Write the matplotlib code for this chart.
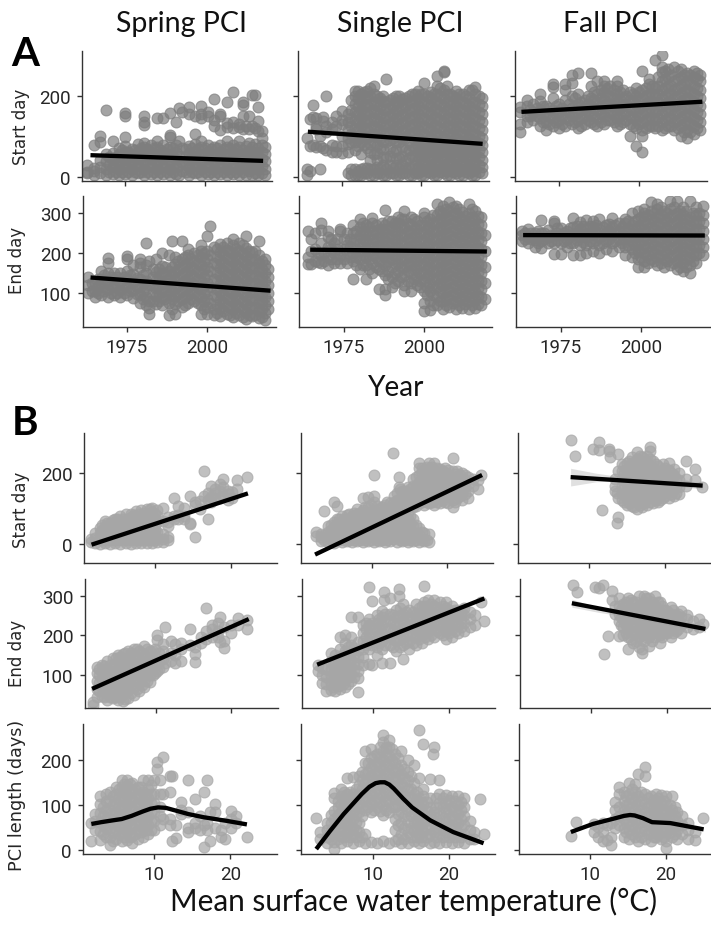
import numpy as np
import matplotlib
matplotlib.use('Agg')
import matplotlib.pyplot as plt

W, H = 711, 928

# values, x value -> list of y values
spring_start = {
 1963: [12, 30, 8], 1965: [4, 22, 15, 77], 1967: [8, 24, 42, 85, 101], 1969: [3, 20, 38, 55, 165],
 1971: [6, 24, 42, 58, 89], 1973: [3, 20, 38, 55, 70], 1975: [7, 25, 42, 60, 75, 97, 156, 150],
 1977: [3, 20, 38, 55, 68], 1979: [8, 26, 44, 62, 80], 1981: [3, 20, 38, 56, 72, 84, 128, 150, 135],
 1983: [7, 25, 43, 60, 78], 1985: [3, 20, 38, 55, 72, 88, 146], 1987: [7, 25, 43, 60, 78, 146],
 1989: [3, 20, 38, 55, 72, 98, 103, 158], 1991: [7, 25, 43, 60, 78, 134], 1992: [4, 30, 52, 170, 88],
 1993: [14, 36, 70, 160], 1995: [5, 22, 40, 58, 75, 171, 155], 1997: [8, 26, 44, 62, 80, 105, 150],
 1999: [3, 20, 38, 55, 72, 88, 175, 155, 145], 2001: [7, 25, 43, 60, 78, 160, 150], 2003: [3, 20, 38, 55, 72, 192, 125, 140],
 2005: [7, 25, 43, 60, 78, 155, 150, 115], 2007: [3, 20, 38, 55, 72, 88, 185, 122, 132], 2009: [7, 25, 43, 60, 78, 208, 120, 135],
 2011: [3, 20, 38, 55, 72, 88, 122, 130], 2012: [12, 32, 50, 66, 177, 184, 150, 118], 2013: [5, 22, 40, 58, 76, 125],
 2014: [14, 30, 48, 64, 82, 118, 150], 2015: [3, 20, 38, 55, 72, 201, 125], 2016: [10, 28, 46, 62, 80, 201, 120],
 2017: [3, 18, 36, 52, 70, 171, 138, 113], 2018: [8, 26, 44, 60, 78, 95, 112], 2019: [3, 20, 38, 55, 72],
}
spring_start_more = {
 1970: [12, 30, 48], 1972: [12, 30, 48], 1974: [12, 30, 48, 65], 1976: [12, 30, 48, 62], 1978: [12, 30, 48, 65], 1980: [12, 30, 50, 70], 1982: [12, 30, 50, 68],
 1984: [12, 30, 50, 70], 1986: [12, 30, 50, 66], 1988: [12, 30, 50, 68], 1990: [12, 30, 50, 70], 1994: [12, 30, 50, 68], 1996: [12, 30, 50, 70], 1998: [12, 30, 50, 68],
 2000: [12, 30, 50, 70], 2002: [12, 30, 50, 68], 2004: [12, 30, 50, 70], 2006: [12, 30, 50, 68], 2008: [12, 30, 50, 70], 2010: [12, 30, 50, 68],
}
single_start = {
 1964: [95, 5, 20], 1965: [75, 142, 15], 1966: [78, 148, 178], 1967: [72, 125, 145, 118], 1968: [18, 75, 100],
 1969: [70, 148, 138], 1970: [65, 200, 110, 125], 1972: [62, 78, 135, 118], 1973: [60, 75, 150, 125], 1975: [58, 75, 100, 130, 162, 140],
 1977: [8, 62, 80, 95, 115, 135, 155], 1979: [5, 20, 65, 85, 100, 120, 140, 160, 180, 200, 212], 1981: [3, 18, 55, 85, 105, 125, 145, 165, 185, 205],
 1983: [8, 22, 70, 95, 115, 135, 155, 175, 195, 212], 1985: [3, 18, 55, 85, 105, 125, 145, 165, 185, 205, 225],
 1987: [8, 22, 70, 95, 115, 135, 155, 175, 195], 1989: [3, 18, 45, 85, 105, 125, 145, 165, 185, 242],
 1991: [8, 22, 60, 95, 115, 135, 155, 175, 195], 1993: [3, 18, 45, 85, 105, 125, 145, 165, 185, 200],
 1995: [8, 22, 38, 65, 95, 115, 135, 155, 175, 195], 1997: [3, 18, 50, 75, 105, 125, 145, 165, 185, 205],
 1999: [8, 24, 42, 60, 78, 95, 115, 135, 155, 175, 195, 212], 2001: [3, 20, 38, 55, 72, 88, 105, 125, 145, 165, 185, 205, 232],
 2003: [8, 24, 42, 60, 78, 95, 115, 135, 155, 175, 195, 210], 2005: [3, 20, 38, 55, 72, 88, 105, 125, 145, 165, 185, 205, 225, 248],
 2007: [8, 24, 42, 60, 78, 95, 115, 135, 155, 175, 195, 215, 258, 260], 2009: [3, 20, 38, 55, 72, 88, 105, 125, 145, 165, 185, 205],
 2011: [8, 24, 42, 60, 78, 95, 115, 135, 155, 175, 195, 212], 2013: [3, 20, 38, 55, 72, 88, 105, 125, 145, 165, 185, 205],
 2015: [8, 24, 42, 60, 78, 95, 115, 135, 155, 175, 195, 215], 2017: [3, 20, 38, 55, 72, 88, 105, 125, 145, 165, 185, 205, 222],
 2019: [8, 24, 42, 60, 78, 95, 115, 135, 155, 175, 195],
}
single_start_more = {
 1978: [5, 18, 85, 105, 125, 145, 165, 190], 1980: [3, 15, 75, 95, 115, 135, 155, 175, 195, 212], 1982: [8, 22, 78, 98, 118, 138, 158, 178, 198, 210],
 1984: [5, 20, 40, 62, 80, 100, 120, 140, 160, 180, 200, 218], 1986: [8, 25, 40, 58, 78, 98, 118, 138, 158, 178, 198], 1988: [5, 28, 48, 68, 88, 108, 128, 148, 168, 188, 200],
 1990: [10, 30, 50, 70, 90, 110, 130, 150, 170, 190], 1992: [5, 28, 45, 65, 85, 105, 125, 145, 165, 185, 200], 1994: [10, 30, 52, 72, 92, 112, 132, 152, 172, 192],
 1996: [5, 25, 45, 65, 85, 105, 125, 145, 165, 185, 200], 1998: [10, 30, 50, 70, 90, 110, 130, 150, 170, 190, 205], 2000: [5, 15, 32, 50, 68, 85, 105, 125, 145, 165, 185, 205],
 2002: [12, 30, 48, 66, 82, 100, 120, 140, 160, 180, 198], 2004: [5, 15, 32, 50, 68, 85, 105, 125, 145, 165, 185, 205], 2006: [12, 30, 48, 66, 82, 100, 120, 140, 160, 180, 200, 218],
 2008: [5, 15, 32, 50, 68, 85, 105, 125, 145, 165, 185, 205, 225], 2010: [12, 30, 48, 66, 82, 100, 120, 140, 160, 180, 200], 2012: [5, 15, 32, 50, 68, 85, 105, 125, 145, 165, 185, 205],
 2014: [12, 30, 48, 66, 82, 100, 120, 140, 160, 180, 200], 2016: [5, 15, 32, 50, 68, 85, 105, 125, 145, 165, 185, 215], 2018: [12, 30, 48, 66, 82, 100, 120, 140, 160, 180, 200],
}
fall_start = {
 1963: [110, 130, 160, 172], 1965: [135, 150, 175, 190], 1967: [140, 160, 180], 1969: [125, 145, 165, 205, 188], 1971: [115, 135, 155, 175],
 1973: [125, 145, 165, 195, 222, 230], 1975: [120, 140, 160, 180], 1977: [125, 145, 165, 190, 215, 230], 1979: [130, 150, 170, 200, 250, 232],
 1981: [120, 140, 160, 180, 205, 255], 1983: [130, 150, 170, 190], 1985: [135, 155, 175, 195, 225, 255], 1987: [125, 145, 165, 185, 205, 235],
 1989: [130, 150, 170, 190, 210, 235, 225], 1991: [140, 160, 180, 200, 225], 1993: [125, 145, 165, 185, 205, 225, 235], 1995: [135, 155, 175, 195, 215],
 1997: [130, 150, 170, 190, 100, 210], 1999: [120, 140, 160, 180, 200, 220, 75], 2001: [115, 135, 155, 175, 195, 215, 60, 262, 100],
 2003: [125, 145, 165, 185, 205, 230, 240], 2005: [120, 140, 160, 180, 200, 220, 288], 2007: [115, 135, 155, 175, 195, 215, 235, 258, 300, 270],
 2009: [125, 145, 165, 185, 205, 225, 245, 265], 2011: [115, 135, 155, 175, 195, 215, 235, 270], 2013: [100, 125, 145, 165, 185, 205, 225, 245, 265],
 2015: [95, 115, 135, 155, 175, 195, 215, 235, 255], 2017: [105, 125, 145, 165, 185, 205, 225, 245, 260], 2019: [115, 135, 155, 175, 195, 215, 235, 250],
}
fall_start_more = {
 1966: [150, 165], 1968: [150, 170], 1970: [135, 155, 175], 1972: [130, 150, 170], 1974: [135, 155, 175], 1976: [130, 150, 170], 1978: [140, 160, 180],
 1980: [135, 155, 175, 195], 1982: [125, 145, 165, 185], 1984: [140, 160, 180, 200], 1986: [130, 150, 170, 190, 210], 1988: [135, 155, 175, 195, 215],
 1990: [140, 160, 180, 200, 220], 1992: [135, 155, 175, 195, 215], 1994: [130, 150, 170, 190, 210], 1996: [140, 160, 180, 200], 1998: [125, 145, 165, 185, 205],
 2000: [130, 150, 170, 190, 210], 2002: [120, 140, 160, 180, 200, 220], 2004: [125, 145, 165, 185, 205, 225], 2006: [125, 145, 165, 185, 205, 225, 245],
 2008: [120, 140, 160, 180, 200, 220, 240, 260], 2010: [125, 145, 165, 185, 205, 225, 250], 2012: [120, 140, 160, 180, 200, 220, 240, 260], 2014: [110, 130, 150, 170, 190, 210, 230, 250],
 2016: [110, 130, 150, 170, 190, 210, 230, 250], 2018: [120, 140, 160, 180, 200, 220, 240, 255],
}
spring_end = {
 1963: [100, 120, 140], 1965: [90, 105, 125], 1967: [95, 115, 135, 155], 1969: [90, 110, 130, 150, 188, 175], 1971: [95, 115, 135, 150],
 1973: [90, 108, 128, 150], 1975: [95, 115, 135, 155, 192, 185], 1977: [88, 108, 128, 148, 170], 1979: [75, 95, 115, 135, 165, 185, 175],
 1981: [70, 90, 110, 130, 150, 170, 225], 1982: [47, 62, 80, 120, 180], 1984: [72, 92, 112, 132, 152, 185], 1986: [70, 90, 110, 130, 150, 200, 168],
 1988: [44, 75, 95, 115, 135, 155, 195], 1989: [229, 60, 85, 105, 125, 145, 165], 1990: [47, 72, 92, 112, 132, 152, 172, 190], 1992: [65, 85, 105, 125, 145, 165, 185, 229],
 1994: [75, 95, 115, 135, 155, 175, 195, 210], 1996: [80, 100, 120, 140, 160, 180, 200], 1998: [48, 70, 90, 110, 130, 150, 170, 190, 220, 205],
 2000: [48, 65, 85, 105, 125, 145, 165, 185, 205, 243], 2001: [268, 75, 115, 155, 195], 2002: [45, 60, 95, 135, 175, 215], 2004: [42, 62, 82, 102, 122, 142, 162, 182, 202, 222],
 2006: [48, 68, 88, 108, 128, 148, 168, 188, 208, 225], 2008: [40, 60, 80, 100, 120, 140, 160, 180, 200, 220, 235], 2010: [45, 65, 85, 105, 125, 145, 165, 185, 205, 225],
 2012: [35, 52, 72, 92, 112, 132, 152, 172, 192, 212, 243], 2014: [42, 62, 82, 102, 122, 142, 162, 182, 202], 2016: [38, 55, 75, 95, 115, 135, 155, 175, 195, 230],
 2018: [33, 50, 70, 90, 110, 130, 150, 170, 185], 2019: [60, 80, 100, 120, 140, 160],
}
spring_end_more = {
 1964: [105, 125], 1966: [100, 115, 135], 1968: [105, 125, 145], 1970: [100, 120, 140], 1972: [100, 120, 140], 1974: [100, 120, 140], 1976: [105, 125, 145], 1978: [98, 118, 138],
 1980: [85, 105, 125, 145], 1983: [80, 100, 120, 140, 160], 1985: [80, 100, 120, 140, 160], 1987: [85, 105, 125, 145, 165], 1991: [80, 100, 120, 140, 160, 180], 1993: [70, 90, 110, 130, 150, 170, 190],
 1995: [85, 105, 125, 145, 165, 185], 1997: [75, 95, 115, 135, 155, 175, 195], 1999: [60, 80, 100, 120, 140, 160, 180, 200], 2003: [50, 70, 90, 110, 130, 150, 170, 190, 210], 2005: [55, 75, 95, 115, 135, 155, 175, 195, 215],
 2007: [45, 65, 85, 105, 125, 145, 165, 185, 205], 2009: [50, 70, 90, 110, 130, 150, 170, 190, 210], 2011: [40, 60, 80, 100, 120, 140, 160, 180, 200, 220], 2013: [45, 65, 85, 105, 125, 145, 165, 185, 205],
 2015: [45, 65, 85, 105, 125, 145, 165, 185, 205], 2017: [40, 60, 80, 100, 120, 140, 160, 180],
}
single_end = {
 1964: [255, 172, 190], 1965: [235, 205, 172], 1966: [250, 180, 210], 1968: [175, 195, 225, 258, 275], 1970: [170, 190, 215, 255, 240], 1972: [175, 200, 225],
 1974: [175, 195, 255, 260], 1976: [175, 200, 220, 250], 1978: [135, 180, 200, 225, 250, 270], 1980: [160, 185, 205, 225, 245, 265, 285],
 1982: [135, 170, 190, 210, 230, 250, 270], 1984: [150, 175, 195, 215, 235, 255, 275, 288], 1986: [110, 160, 180, 200, 220, 240, 260],
 1988: [95, 110, 145, 170, 190, 210, 230, 250, 270, 308], 1990: [115, 140, 165, 185, 205, 225, 245, 265, 280], 1992: [130, 155, 175, 195, 215, 235, 255, 275, 290],
 1994: [105, 120, 145, 165, 185, 205, 225, 245, 265, 285, 305], 1996: [105, 125, 150, 170, 190, 210, 230, 250, 270, 290], 1998: [120, 140, 160, 180, 200, 220, 240, 260, 280],
 2000: [55, 75, 105, 130, 150, 170, 190, 210, 230, 250, 270, 290, 300], 2002: [58, 80, 105, 125, 145, 165, 185, 205, 225, 245, 265, 285],
 2004: [70, 90, 115, 135, 155, 175, 195, 215, 235, 255, 275, 295, 322], 2006: [60, 80, 100, 120, 140, 160, 180, 200, 220, 240, 260, 280, 300, 318],
 2008: [65, 85, 105, 125, 145, 165, 185, 205, 225, 245, 265, 285, 305, 328], 2010: [60, 80, 100, 120, 140, 160, 180, 200, 220, 240, 260, 280, 300, 318],
 2012: [62, 82, 102, 122, 142, 162, 182, 202, 222, 242, 262, 282, 302], 2014: [60, 80, 100, 120, 140, 160, 180, 200, 220, 240, 260, 280, 300, 322],
 2016: [62, 82, 102, 122, 142, 162, 182, 202, 222, 242, 262, 282, 305], 2018: [70, 90, 110, 130, 150, 170, 190, 210, 230, 250, 270, 290],
 2019: [85, 125, 165, 205, 245],
}
single_end_more = {
 1967: [178, 200], 1969: [180, 200], 1971: [185, 210, 235], 1973: [185, 210, 235], 1975: [185, 210, 235], 1977: [190, 215, 235], 1979: [170, 190, 210, 235, 255], 1981: [170, 195, 215, 235, 255, 275],
 1983: [160, 185, 205, 225, 245, 265], 1985: [165, 190, 210, 230, 250, 270], 1987: [155, 180, 200, 220, 240, 260, 275], 1989: [135, 155, 180, 200, 220, 240, 260, 280], 1991: [125, 150, 175, 195, 215, 235, 255, 275],
 1993: [140, 165, 185, 205, 225, 245, 265, 285], 1995: [130, 155, 175, 195, 215, 235, 255, 275], 1997: [135, 160, 180, 200, 220, 240, 260, 285], 1999: [115, 130, 150, 170, 190, 210, 230, 250, 270],
 2001: [95, 115, 140, 160, 180, 200, 220, 240, 260, 280], 2003: [70, 95, 115, 135, 155, 175, 195, 215, 235, 255, 275, 295], 2005: [80, 105, 125, 145, 165, 185, 205, 225, 245, 265, 285, 305],
 2007: [70, 90, 110, 130, 150, 170, 190, 210, 230, 250, 270, 290, 310], 2009: [75, 95, 115, 135, 155, 175, 195, 215, 235, 255, 275, 295, 315], 2011: [70, 90, 110, 130, 150, 170, 190, 210, 230, 250, 270, 290, 310],
 2013: [72, 92, 112, 132, 152, 172, 192, 212, 232, 252, 272, 292], 2015: [70, 90, 110, 130, 150, 170, 190, 210, 230, 250, 270, 290, 310], 2017: [72, 92, 112, 132, 152, 172, 192, 212, 232, 252, 272, 292],
}
fall_end = {
 1963: [230, 245, 255], 1965: [225, 240, 260], 1967: [215, 232, 250], 1969: [212, 230, 250, 282], 1971: [225, 240, 258], 1973: [197, 225, 245, 275, 280],
 1975: [197, 225, 245, 262], 1977: [215, 235, 255], 1979: [195, 225, 245, 265, 288], 1981: [195, 220, 240, 260, 278], 1983: [200, 220, 240, 260, 282],
 1985: [205, 225, 245, 265, 280], 1987: [200, 220, 240, 260, 285], 1989: [210, 230, 250, 270], 1991: [205, 225, 245, 265, 288], 1993: [215, 235, 255, 275],
 1995: [195, 215, 235, 255, 275, 285], 1997: [190, 210, 230, 250, 270, 300], 1999: [165, 185, 205, 225, 245, 265, 285, 305], 2001: [165, 180, 200, 220, 240, 260, 280, 300, 310],
 2003: [185, 205, 225, 245, 265, 285, 305, 328], 2005: [170, 190, 210, 230, 250, 270, 290, 310, 322], 2007: [165, 185, 205, 225, 245, 265, 285, 305],
 2009: [170, 190, 210, 230, 250, 270, 290, 310, 330], 2011: [160, 180, 200, 220, 240, 260, 280, 300, 330], 2013: [155, 175, 195, 215, 235, 255, 275, 295, 315],
 2015: [150, 170, 190, 210, 230, 250, 270, 290, 330], 2017: [175, 195, 215, 235, 255, 275, 295, 315], 2019: [195, 215, 235, 255, 275, 295, 318],
}
fall_end_more = {
 1964: [235, 250], 1966: [235, 250], 1968: [225, 240, 255], 1970: [235, 250], 1972: [230, 245], 1974: [232, 250, 262], 1976: [230, 250], 1978: [225, 245, 262], 1980: [232, 250, 268], 1982: [228, 248, 268],
 1984: [230, 250, 268], 1986: [232, 252, 270], 1988: [225, 245, 265], 1990: [235, 255, 272], 1992: [230, 250, 270], 1994: [225, 245, 265], 1996: [220, 240, 260, 280], 1998: [200, 220, 240, 260, 280],
 2000: [190, 210, 230, 250, 270, 290], 2002: [175, 195, 215, 235, 255, 275, 295], 2004: [180, 200, 220, 240, 260, 280, 300], 2006: [175, 195, 215, 235, 255, 275, 295, 315], 2008: [180, 200, 220, 240, 260, 280, 300],
 2010: [175, 195, 215, 235, 255, 275, 295, 315], 2012: [165, 185, 205, 225, 245, 265, 285, 305], 2014: [165, 185, 205, 225, 245, 265, 285, 305], 2016: [180, 200, 220, 240, 260, 280, 300], 2018: [200, 220, 240, 260, 280, 300],
}
spring_start_t = {
 1.5: [5, 15], 2: [3, 18, 32], 2.7: [0, 15, 30, 45], 3.4: [3, 18, 33, 48, 66], 4: [0, 15, 30, 45, 60], 4.7: [3, 18, 33, 48, 63, 72], 5.4: [0, 15, 30, 45, 60, 78],
 6.1: [3, 18, 33, 48, 63, 85], 6.8: [0, 15, 30, 45, 60, 75, 85], 7.5: [3, 18, 33, 48, 63, 78, 92], 8.2: [2, 15, 30, 45, 60, 75, 95], 8.9: [3, 18, 33, 48, 63, 78, 100],
 9.6: [4, 15, 30, 45, 60, 75, 90, 103], 10.3: [5, 18, 33, 62, 78, 95], 11: [6, 15, 28, 65, 102], 11.7: [10, 20, 50, 62, 75], 12.5: [130, 80, 72], 13: [108, 72, 82],
 13.8: [70, 80, 102], 14.6: [57, 135, 60], 15.3: [19, 110, 118], 16: [122, 100], 16.5: [207, 135], 17: [71, 125, 145], 17.4: [165, 132, 118], 18: [128, 145, 155],
 18.6: [170, 150, 130], 19: [185, 162, 135], 19.6: [140, 125, 150], 20.2: [148, 130], 20.8: [180, 155], 22.2: [188],
}
spring_start_t_more = {
 3: [10, 25, 40, 55], 3.7: [10, 25, 40, 58], 4.4: [10, 25, 40, 55, 68], 5: [10, 25, 40, 55, 70], 5.8: [10, 25, 40, 55, 70], 6.4: [10, 25, 40, 55, 72], 7.2: [10, 25, 40, 55, 70, 82], 7.9: [10, 25, 40, 55, 70, 85],
 8.6: [10, 25, 40, 55, 70, 88], 9.3: [10, 25, 40, 55, 70, 85, 98], 10: [10, 25, 40, 55, 70, 85],
}
single_start_t = {
 2.6: [33, 22], 3.3: [8, 28, 20], 3.7: [94, 12, 25], 4.2: [5, 20, 35, 50], 5: [118, 3, 18, 33, 48, 62], 5.4: [106, 10, 25, 40, 55, 70], 6: [5, 20, 35, 50, 65, 80],
 6.7: [8, 23, 38, 53, 68, 82], 7.4: [5, 20, 35, 50, 65, 78], 8.1: [8, 23, 38, 53, 68, 85, 100], 8.8: [5, 20, 35, 50, 65, 80, 95, 130], 9.5: [8, 23, 38, 53, 68, 83, 105, 132],
 10.3: [195, 5, 20, 35, 50, 65, 80, 95, 120, 135], 11: [8, 23, 38, 53, 68, 83, 100], 11.7: [5, 20, 35, 50, 65, 80, 95, 110], 12.4: [8, 23, 38, 53, 68, 83, 98, 115],
 12.8: [257, 15, 45, 75, 105], 13.3: [5, 20, 35, 50, 65, 80, 95, 110, 125, 145], 13.6: [189, 160], 14: [8, 23, 38, 53, 68, 83, 115, 135, 150], 14.8: [5, 20, 35, 50, 70, 90, 120, 140, 160],
 15.5: [8, 30, 50, 70, 105, 125, 145, 165, 185], 16.2: [5, 25, 45, 115, 135, 155, 175, 195, 215, 228], 16.9: [8, 30, 110, 130, 150, 170, 190, 210], 17.6: [5, 28, 115, 135, 155, 175, 195, 215, 228],
 18.3: [110, 130, 150, 170, 190, 210, 228], 19: [115, 135, 155, 175, 195, 212], 19.7: [120, 140, 160, 180, 200, 215], 20.7: [242, 105, 125, 145, 165, 185, 205], 21.3: [130, 150, 170, 190, 205],
 22: [125, 145, 165, 185, 200], 22.7: [130, 150, 170, 190], 23.4: [165, 185], 24: [155, 180], 24.4: [195],
}
single_start_t_more = {
 4.6: [10, 25, 40, 55], 5.7: [12, 28, 42, 58, 72], 6.3: [12, 28, 42, 58, 72], 7: [12, 28, 42, 58, 72, 85], 7.7: [12, 28, 42, 58, 72, 88], 8.5: [12, 28, 42, 58, 72, 88], 9.1: [12, 28, 42, 58, 72, 90, 105],
 9.9: [12, 28, 42, 58, 72, 88, 110], 10.7: [12, 28, 42, 58, 72, 88, 108], 11.3: [12, 28, 42, 58, 72, 88, 105], 12: [12, 28, 42, 58, 72, 88, 102, 118], 12.9: [28, 58, 88, 118, 135], 13.7: [12, 28, 42, 58, 72, 88, 105, 125, 155],
 14.4: [12, 28, 42, 62, 82, 105, 128, 150], 15.1: [12, 32, 58, 80, 112, 132, 155], 15.9: [12, 30, 55, 108, 125, 145, 165, 190], 16.6: [12, 35, 120, 140, 160, 180, 200, 215], 17.3: [12, 120, 140, 160, 180, 200, 218],
 18: [118, 138, 158, 178, 198, 218], 18.7: [120, 140, 160, 180, 200, 215], 19.4: [125, 145, 165, 185, 205], 20.1: [115, 135, 155, 175, 195, 210], 21: [120, 140, 160, 180, 198], 21.7: [135, 155, 175, 195], 22.4: [140, 160, 180, 195],
}
fall_start_t = {
 7.6: [295], 8.2: [248], 10.5: [270], 11.3: [288, 265], 11.8: [97], 12.6: [270, 262], 12.8: [245], 13.4: [165, 185, 150], 13.7: [60, 145], 13.9: [76, 255, 130, 205],
 14.4: [125, 145, 165, 185, 205, 225], 15: [110, 130, 150, 170, 190, 210, 230], 15.7: [108, 128, 148, 168, 188, 208, 228, 245], 16.3: [100, 120, 140, 160, 180, 200, 220, 240, 260],
 17: [105, 125, 145, 165, 185, 205, 225, 245], 17.7: [110, 130, 150, 170, 190, 210, 230, 250], 18: [275, 262], 18.4: [115, 135, 155, 175, 195, 215, 235], 19.1: [120, 140, 160, 180, 200, 220],
 19.8: [130, 150, 170, 190, 210, 225], 20.5: [130, 150, 170, 190, 210, 228], 21.2: [135, 155, 175, 195, 212], 21.9: [140, 160, 180, 200], 22.8: [236, 165, 185], 24: [212, 180], 24.9: [160],
}
fall_start_t_more = {
 14.7: [120, 140, 160, 180, 200, 220], 15.3: [115, 135, 155, 175, 195, 215, 235], 16: [105, 125, 145, 165, 185, 205, 225], 16.7: [110, 130, 150, 170, 190, 210, 230, 250], 17.3: [115, 135, 155, 175, 195, 215, 235],
 18: [120, 140, 160, 180, 200, 220, 240], 18.8: [125, 145, 165, 185, 205, 225], 19.4: [125, 145, 165, 185, 205], 20.1: [135, 155, 175, 195, 215], 20.8: [140, 160, 180, 200], 21.5: [145, 165, 185],
}
spring_end_t = {
 1.7: [31, 25], 2.2: [45, 65, 85, 105, 120], 2.9: [48, 68, 88, 108, 125], 3.6: [38, 55, 75, 95, 115, 135], 4.3: [42, 62, 82, 102, 122, 142], 5: [38, 55, 75, 95, 115, 135, 150],
 5.7: [35, 52, 72, 92, 112, 132, 152], 6.4: [42, 62, 82, 102, 122, 142, 160], 7.1: [50, 70, 90, 110, 130, 150, 165], 7.8: [60, 80, 100, 120, 140, 160], 8.5: [70, 85, 105, 125, 145, 172],
 9.2: [82, 100, 120, 140, 160], 9.9: [105, 125, 145, 165], 10.2: [202, 188, 110], 11: [120, 140, 160, 178], 11.3: [220, 130], 12: [135, 155, 185], 12.6: [130, 150, 178],
 13.3: [135, 165, 180], 14.5: [216, 175], 15.2: [132, 153, 170], 16: [180, 195], 16.6: [269, 190, 210], 17.4: [195, 215, 225], 18.2: [195, 210, 232], 18.5: [245, 182], 19: [167, 185, 220],
 20: [205, 225], 20.9: [243, 225], 22.1: [216, 238],
}
spring_end_t_more = {
 2.5: [60, 80, 100, 115], 3.2: [45, 65, 85, 105, 122], 4: [45, 65, 85, 105, 125], 4.7: [45, 65, 85, 105, 125, 142], 5.3: [45, 65, 85, 105, 125, 145], 6: [40, 60, 80, 100, 120, 140, 155],
 6.8: [55, 75, 95, 115, 135, 155], 7.5: [65, 85, 105, 125, 145, 165], 8.2: [75, 95, 115, 135, 155], 8.9: [85, 105, 125, 145, 165], 9.6: [100, 120, 140, 160], 10.5: [115, 135, 155],
}
single_end_t = {
 2.7: [110, 125], 3.2: [80, 100, 118], 3.8: [60, 78, 96, 114], 4.4: [62, 80, 98, 116, 135, 155], 5: [60, 78, 96, 114, 132, 150], 5.6: [65, 83, 101, 119, 137, 165, 195],
 6.3: [70, 88, 106, 124, 142, 160, 180, 200], 7.1: [85, 103, 121, 139, 157, 175, 195, 245], 8: [58, 92, 110, 128, 146, 164, 182, 245], 8.7: [125, 145, 165, 185, 205, 225],
 9.5: [321, 165, 185, 205, 225, 240, 128], 9.8: [287, 125], 10.5: [150, 170, 190, 210, 230, 250], 11.2: [130, 165, 185, 205, 225, 245, 262], 11.5: [308, 290], 12.2: [130, 175, 195, 215, 235, 255, 295],
 13: [160, 185, 205, 225, 245, 265], 13.4: [317, 300], 14: [140, 175, 195, 215, 235, 255, 280], 14.8: [165, 185, 205, 225, 245, 265], 15.6: [175, 195, 215, 235, 255, 280], 16.4: [180, 200, 220, 240, 260, 275],
 16.7: [325, 285], 17.2: [190, 210, 230, 250, 270, 288], 18: [195, 215, 235, 255, 275, 290], 18.8: [205, 225, 245, 265, 285], 19.6: [190, 210, 230, 250, 270, 285], 20.4: [195, 215, 235, 255, 275],
 21.2: [205, 225, 245, 265], 22: [210, 230, 250, 270], 22.8: [220, 240, 260], 23.4: [225, 250], 24.3: [283], 24.6: [237],
}
single_end_t_more = {
 4.7: [70, 88, 106, 125], 5.3: [72, 90, 108, 125, 142], 6: [78, 95, 112, 130, 150], 6.7: [78, 95, 112, 130, 150, 170], 7.5: [95, 112, 130, 150, 168], 9.1: [175, 195, 215, 232], 9.9: [175, 195, 215, 232], 10.8: [180, 200, 220, 240],
 11.6: [175, 195, 215, 235, 255], 12.6: [170, 190, 210, 230, 250], 13.5: [170, 190, 210, 230, 250, 270], 14.4: [180, 200, 220, 240, 260], 15.2: [180, 200, 220, 240, 260], 16: [190, 210, 230, 250, 270], 16.8: [195, 215, 235, 255, 275],
 17.6: [200, 220, 240, 260, 280], 18.4: [210, 230, 250, 270], 19.2: [200, 220, 240, 260, 275], 20: [205, 225, 245, 265], 20.8: [210, 230, 250, 265], 21.6: [220, 240, 258],
}
fall_end_t = {
 7.6: [327], 8.2: [310], 10.5: [323], 11.1: [320], 11.6: [327], 11.8: [153], 12.2: [198], 12.8: [313, 290], 13.2: [275, 255], 13.7: [198, 235, 255, 275, 295], 14.3: [200, 220, 240, 260, 280],
 14.9: [165, 195, 215, 235, 255, 275, 295], 15.6: [180, 205, 225, 245, 265, 285], 16.3: [170, 195, 215, 235, 255, 275, 298], 16.7: [155, 165], 17: [185, 205, 225, 245, 265, 285, 300],
 17.7: [172, 195, 215, 235, 255, 275, 295], 18.4: [195, 215, 235, 255, 275, 300], 19.1: [180, 200, 220, 240, 260, 285], 19.8: [205, 225, 245, 265], 20.5: [195, 215, 235, 255, 272], 21.2: [210, 230, 250],
 21.9: [205, 225, 245, 262], 22.7: [222, 242, 250], 23.5: [215, 235], 24.2: [220, 240], 24.8: [229],
}
fall_end_t_more = {
 14: [225, 245, 265], 14.6: [205, 225, 245, 265, 285], 15.3: [190, 210, 230, 250, 270, 290], 16: [185, 205, 225, 245, 265, 285], 16.7: [200, 220, 240, 260, 280], 17.3: [195, 215, 235, 255, 275, 295],
 18: [185, 205, 225, 245, 265, 285], 18.8: [205, 225, 245, 265, 285], 19.4: [195, 215, 235, 255, 275], 20.1: [205, 225, 245, 262], 20.8: [205, 225, 245, 265], 21.5: [215, 235, 255],
}
spring_len_t = {
 1.7: [20, 60], 2.2: [45, 65, 80], 2.9: [22, 42, 62, 82, 102, 120], 3.6: [30, 50, 70, 90, 110, 125], 4.2: [12, 30, 50, 70, 90, 110, 130], 5: [25, 45, 65, 85, 105, 125, 140],
 5.7: [20, 40, 60, 80, 100, 120, 140, 155], 6.4: [22, 42, 62, 82, 102, 122, 142, 155], 7.1: [15, 32, 52, 72, 92, 112, 132, 150], 7.8: [25, 45, 65, 85, 105, 125, 140], 8.5: [30, 50, 70, 90, 110, 130, 155],
 9.2: [35, 55, 75, 95, 115, 135, 155], 9.9: [45, 65, 85, 105, 125, 155], 10.3: [196, 181], 10.7: [55, 75, 95, 125, 155], 11.2: [207, 70, 125], 12: [166, 55, 70, 130], 12.3: [21, 165], 12.9: [26, 55],
 13.5: [107, 90, 80], 14.5: [155, 40, 50, 85], 15.3: [114, 50, 60], 16: [45, 75], 16.5: [129, 6, 55], 17: [155, 60, 45], 17.4: [21, 85], 18: [103, 50, 85], 18.8: [45, 30], 19.3: [25, 60], 20.1: [88, 70, 50],
 20.8: [75, 60], 22.2: [28],
}
spring_len_t_more = {
 3.2: [35, 55, 75, 95], 4.6: [20, 40, 60, 80, 100, 120], 5.3: [35, 55, 75, 95, 115, 135], 6: [30, 50, 70, 90, 110, 130, 148], 6.8: [28, 48, 68, 88, 108, 128, 148], 7.5: [35, 55, 75, 95, 115, 135],
 8.2: [40, 60, 80, 100, 120, 140], 8.9: [45, 65, 85, 105, 125], 9.5: [45, 65, 85, 105, 125, 145],
}
single_len_t = {
 2.6: [71], 3.1: [25, 40], 4: [15, 30, 45, 60], 5: [2, 18, 35, 52, 70, 88, 115, 128], 5.8: [15, 32, 50, 68, 85, 102, 120, 135], 6.6: [20, 38, 55, 72, 90, 108, 125, 160], 7.4: [15, 35, 50, 70, 88, 105, 125, 162],
 8.2: [20, 40, 60, 85, 105, 125, 145, 165], 9: [15, 35, 90, 110, 130, 150, 170, 195, 220], 9.8: [18, 85, 105, 125, 145, 165, 185, 205, 225], 10.6: [15, 95, 115, 135, 155, 175, 195, 215],
 11.4: [20, 78, 100, 120, 140, 160, 180, 200, 220, 240, 257], 12.2: [15, 85, 110, 130, 150, 170, 190, 210, 230, 245], 13: [20, 45, 70, 95, 115, 135, 155, 175, 195, 215],
 13.8: [15, 35, 60, 85, 110, 130, 150, 170, 190, 220], 14.6: [15, 40, 65, 90, 115, 135, 155, 175, 200], 15.4: [20, 42, 62, 85, 105, 125, 150, 190], 16.1: [267, 15, 35, 55, 75, 95, 115, 160],
 16.7: [237, 20, 40, 60, 80, 100, 120, 135], 17.5: [15, 35, 55, 75, 95, 115, 158], 17.9: [215], 18.1: [230, 18, 40, 60, 85], 18.8: [15, 38, 60, 82, 105, 125, 155], 19.6: [18, 40, 62, 85, 105, 122],
 20.4: [15, 35, 55, 75, 95, 120], 21.2: [18, 38, 60, 80, 100, 120], 22: [15, 35, 55, 75, 95, 115], 22.8: [25, 45, 65], 23.4: [25, 40], 24.1: [114], 24.6: [36],
}
single_len_t_more = {
 4.6: [25, 42, 60, 78], 5.4: [25, 42, 60, 78, 95, 110], 6.2: [28, 45, 62, 80, 98, 115, 130], 7: [28, 45, 62, 80, 98, 115, 130], 7.8: [28, 45, 62, 80, 98, 115, 135], 8.6: [28, 75, 95, 115, 135, 155, 175],
 9.4: [95, 115, 135, 155, 175, 195], 10.2: [90, 110, 130, 150, 170, 190, 210], 11: [88, 108, 128, 148, 168, 188, 208, 230], 11.8: [90, 110, 130, 150, 170, 190, 210, 230], 12.6: [95, 120, 140, 160, 180, 200, 225], 13.4: [25, 55, 80, 100, 120, 140, 160, 180, 205],
 14.2: [25, 50, 75, 100, 120, 140, 160, 180], 15: [30, 50, 75, 95, 115, 135, 165], 15.8: [28, 48, 70, 90, 110, 130], 16.4: [28, 48, 68, 88, 108], 17.2: [28, 48, 68, 88, 108], 18.4: [28, 50, 72, 95, 115], 19.2: [28, 50, 72, 95, 115], 20: [28, 50, 72, 92, 112],
 20.8: [28, 50, 70, 90, 110], 21.6: [28, 50, 70, 90, 108],
}
fall_len_t = {
 7.5: [32], 8.2: [63], 10.5: [40, 58], 11.1: [30, 52], 11.8: [20, 40, 60], 12.3: [55, 22], 12.8: [10, 30, 60], 13.3: [48, 70, 90, 108], 13.8: [125, 55, 75, 95, 140], 14.5: [30, 50, 70, 90, 110, 130],
 15.2: [25, 45, 65, 85, 105, 125, 150], 15.9: [30, 50, 70, 90, 110, 130, 148], 16.4: [170, 20, 40, 60, 80, 100, 120], 17.3: [185, 25, 45, 65, 85, 105, 125, 165], 18: [20, 40, 60, 80, 100, 120],
 18.7: [30, 50, 70, 90, 110, 125], 19.4: [25, 45, 65, 85, 105, 122], 20.1: [5, 20, 40, 60, 80, 100, 120], 20.8: [30, 50, 70, 90, 120], 21.5: [25, 45, 65, 85], 22.2: [35, 55, 75], 23: [25, 45, 60], 23.8: [22, 40], 24.9: [71],
}
fall_len_t_more = {
 14.8: [40, 60, 80, 100, 120], 15.6: [35, 55, 75, 95, 115, 135], 16.7: [30, 50, 70, 90, 110, 130], 17.7: [35, 55, 75, 95, 115], 18.4: [30, 50, 70, 90, 110], 19: [35, 55, 75, 95, 115], 19.8: [30, 50, 70, 90, 110], 20.5: [40, 60, 80, 100], 21.2: [35, 55, 75, 95],
}

# fitted lines, same order as the panels
line_years = {
 'spring_start': ([1964, 2018.5], [53, 39]), 'single_start': ([1964.3, 2019.3], [111, 81]), 'fall_start': ([1963.3, 2019.7], [160, 185]),
 'spring_end': ([1963.7, 2019.7], [138, 105]), 'single_end': ([1964.6, 2019.7], [207.5, 203]), 'fall_end': ([1963.4, 2019.7], [244, 243]),
}
line_temp = {
 'spring_start': ([1.6, 22.3], [-2, 143]), 'single_start': ([2.5, 24.6], [-30, 195]), 'fall_start': ([7.6, 25], [189, 165]),
 'spring_end': ([1.6, 22.3], [65, 241]), 'single_end': ([2.6, 24.7], [126, 293]), 'fall_end': ([7.5, 25.1], [281, 216]),
}
loess_spring = ([1.7, 3, 4.5, 5.7, 7, 8.5, 9.5, 10.5, 11.5, 13, 14.5, 16.5, 19.5, 22.2], [58, 62, 66, 69, 76, 86, 92, 95, 94, 87, 80, 73, 65, 57])
loess_single = ([2.6, 4.4, 6.2, 8.6, 9.6, 10.4, 11, 11.6, 12.2, 12.8, 14, 15.2, 17.6, 20.6, 24.6], [2, 42, 80, 125, 141, 149, 151, 151, 146, 137, 115, 95, 66, 40, 15])
loess_fall = ([7.5, 10.4, 13.4, 14.5, 15.3, 15.9, 17, 18.2, 20.6, 22.5, 25], [40, 58, 71, 76, 78, 77, 71, 62, 60, 54, 46])
band_fall_start = ([7.6, 11, 14, 17, 20, 25], [214, 200, 191, 184, 181, 175], [164, 176, 178, 175, 168, 155])
band_fall_end = ([7.5, 11, 14, 17, 20, 25.1], [291, 270, 258, 247, 237, 224], [271, 258, 249, 239, 227, 208])

A_COLOR = '#7e7e7e'
B_COLOR = '#a6a6a6'
LEFT_A = [[81.6, 272], [298, 489], [514.7, 707.5]]
LEFT_A2 = [[82.5, 275.7], [299.3, 492], [516, 710]]
LEFT_B = [[84, 276.6], [300.7, 493.4], [517.5, 711]]
LEFT_B2 = [[84.5, 277.5], [302, 495], [519.5, 713]]
LEFT_B3 = [[83, 276.5], [301, 495], [518.5, 712]]

plt.rcParams['font.family'] = ['Roboto', 'DejaVu Sans']
fig = plt.figure(figsize=(W / 100, H / 100), dpi=100)


def panel(xs, top, bottom, xlim, ylim, xticks, yticks, showx, showy):
    ax = fig.add_axes([xs[0] / W, 1 - bottom / H, (xs[1] - xs[0]) / W, (bottom - top) / H])
    ax.set_xlim(xlim)
    ax.set_ylim(ylim)
    ax.set_xticks(xticks)
    ax.set_yticks(yticks)
    ax.spines['top'].set_visible(False)
    ax.spines['right'].set_visible(False)
    for s in ['left', 'bottom']:
        ax.spines[s].set_color('#333333')
        ax.spines[s].set_linewidth(1.0)
    ax.tick_params(colors='#333333', labelsize=13.5, length=3.5, width=1.0, pad=4.5,
                   labelbottom=showx, labelleft=showy, labelcolor='#262626')
    return ax


def dots(ax, datas, color):
    for data in datas:
        x = [k for k, v in data.items() for _ in v]
        y = [d for v in data.values() for d in v]
        ax.scatter(x, y, s=62, color=color, alpha=0.7, linewidths=0.8)


def fit(ax, line):
    ax.plot(line[0], line[1], color='black', lw=3.1, solid_capstyle='butt', solid_joinstyle='round')


YX = (1961.2, 2021.3)
TX = (0.6, 26.1)
rows = [
 (LEFT_A, 51.7, 181.7, YX, (-10, 311), [1975, 2000], [0, 200], False,
  [[spring_start, spring_start_more], [single_start, single_start_more], [fall_start, fall_start_more]],
  ['spring_start', 'single_start', 'fall_start'], line_years, A_COLOR),
 (LEFT_A2, 196.7, 327.7, YX, (15, 342.5), [1975, 2000], [100, 200, 300], True,
  [[spring_end, spring_end_more], [single_end, single_end_more], [fall_end, fall_end_more]],
  ['spring_end', 'single_end', 'fall_end'], line_years, A_COLOR),
 (LEFT_B, 434.3, 563.7, TX, (-53, 313), [10, 20], [0, 200], False,
  [[spring_start_t, spring_start_t_more], [single_start_t, single_start_t_more], [fall_start_t, fall_start_t_more]],
  ['spring_start', 'single_start', 'fall_start'], line_temp, B_COLOR),
 (LEFT_B2, 580, 709.3, TX, (16, 342), [10, 20], [100, 200, 300], False,
  [[spring_end_t, spring_end_t_more], [single_end_t, single_end_t_more], [fall_end_t, fall_end_t_more]],
  ['spring_end', 'single_end', 'fall_end'], line_temp, B_COLOR),
]

axes = []
for lefts, top, bottom, xlim, ylim, xt, yt, showx, datas, names, lines, col in rows:
    row = []
    for j in range(3):
        ax = panel(lefts[j], top, bottom, xlim, ylim, xt, yt, showx, j == 0)
        dots(ax, datas[j], col)
        fit(ax, lines[names[j]])
        row.append(ax)
    axes.append(row)

axes[2][2].fill_between(band_fall_start[0], band_fall_start[2], band_fall_start[1], color='#999999', alpha=0.3, lw=0)
axes[3][2].fill_between(band_fall_end[0], band_fall_end[2], band_fall_end[1], color='#999999', alpha=0.3, lw=0)

loess = [loess_spring, loess_single, loess_fall]
length = [[spring_len_t, spring_len_t_more], [single_len_t, single_len_t_more], [fall_len_t, fall_len_t_more]]
for j in range(3):
    ax = panel(LEFT_B3[j], 725, 855, TX, (-9, 281), [10, 20], [0, 100, 200], True, j == 0)
    dots(ax, length[j], B_COLOR)
    fit(ax, loess[j])


def label(x, y, s, **kw):
    fig.text(x / W, 1 - y / H, s, ha='center', va='center', **kw)


for x, s in [(182, 'Spring PCI'), (400, 'Single PCI'), (611, 'Fall PCI')]:
    label(x, 24, s, fontsize=20.5, family='Lato', color='#111111')
label(396, 388, 'Year', fontsize=20.2, family='Lato', color='#111111')
label(414, 901, 'Mean surface water temperature (°C)', fontsize=21.4, family='Lato', color='#111111')
label(25, 55, 'A', fontsize=29, family='Lato', weight='bold', color='black')
label(25, 424, 'B', fontsize=29, family='Lato', weight='bold', color='black')
for x, y, s, fs in [(21, 127, 'Start day', 12), (17, 260, 'End day', 12), (21, 510, 'Start day', 12), (17, 653, 'End day', 12), (17, 795, 'PCI length (days)', 12.7)]:
    label(x, y, s, fontsize=fs, rotation=90, family='DejaVu Sans', color='#262626')

fig.savefig('out.png', dpi=100)
